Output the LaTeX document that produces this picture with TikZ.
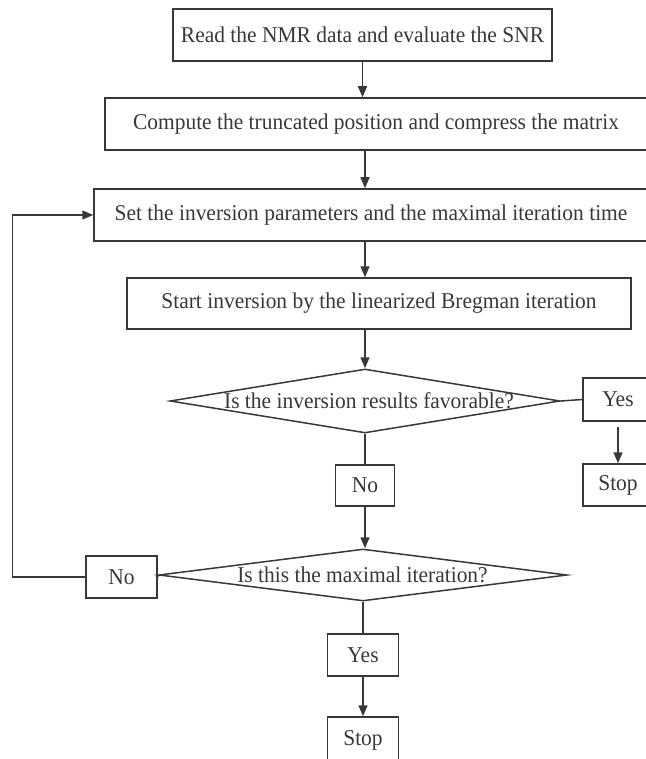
\documentclass[tikz,border=0pt]{standalone}
\usepackage{fontspec}
\setmainfont[FakeStretch=0.95]{Liberation Serif}
\usetikzlibrary{arrows.meta,shapes.geometric}
\definecolor{ink}{HTML}{383838}
\begin{document}
\begin{tikzpicture}[x=1pt,y=-1pt,
  txt/.style={text=ink, inner sep=0pt, font=\fontsize{22.6}{25}\selectfont},
  box/.style={txt, draw=ink, line width=1.5pt},
  dia/.style={diamond, draw=ink, line width=1.5pt, inner sep=0pt},
  conn/.style={draw=ink, line width=1.5pt},
  arr/.style={conn, -{Triangle[length=11pt,width=9pt]}}]
\useasboundingbox (0,0) rectangle (645,759);
\coordinate (ax) at (365,0);
% process boxes
\node[box, minimum width=379pt, minimum height=52pt] (b1) at (362.5,35) {Read the NMR data and evaluate the SNR};
\node[box, minimum width=542pt, minimum height=52pt] (b2) at (376,124) {Compute the truncated position and compress the matrix};
\node[box, minimum width=554pt, minimum height=52pt] (b3) at (371,215) {Set the inversion parameters and the maximal iteration time};
\node[box, minimum width=504pt, minimum height=51pt] (b4) at (379,303.5) {Start inversion by the linearized Bregman iteration};
% first decision
\node[dia, minimum width=390pt, minimum height=64pt] (d1) at (365,401) {};
\node[txt] (d1t) at (369,401) {Is the inversion results favorable?};
\node[box, minimum width=70pt, minimum height=43pt] (y1) at (618,399.5) {Yes};
\node[box, minimum width=70pt, minimum height=42pt] (s1) at (618,485) {Stop};
\node[box, minimum width=59pt, minimum height=41pt] (n1) at (365,485.5) {No};
% second decision
\node[dia, minimum width=408pt, minimum height=52pt] (d2) at (363,575) {};
\node[txt] (d2t) at (362.5,575) {Is this the maximal iteration?};
\node[box, minimum width=71pt, minimum height=42pt] (n2) at (121.5,577) {No};
\node[box, minimum width=71pt, minimum height=42pt] (y2) at (363,655) {Yes};
\node[box, minimum width=71pt, minimum height=46pt] (s2) at (363,740) {Stop};
% connectors
\draw[arr] (b1.south) -- (b1.south |- b2.north);
\draw[arr] (ax |- b2.south) -- (ax |- b3.north);
\draw[arr] (ax |- b3.south) -- (ax |- b4.north);
\draw[arr] (ax |- b4.south) -- (d1.north);
\draw[conn] (d1.east) -- (y1.west);
\draw[arr, shorten <=5pt] (y1.south) -- (s1.north);
\draw[conn] (d1.south) -- (n1.north);
\draw[arr] (n1.south) -- (n1.south |- d2.north);
\draw[conn] (d2.west) -- (n2.east);
\draw[conn] (d2.south) -- (y2.north);
\draw[arr] (y2.south) -- (s2.north);
\draw[arr] (n2.west) -- ++(-73,0) |- (b3.west);
\end{tikzpicture}
\end{document}
